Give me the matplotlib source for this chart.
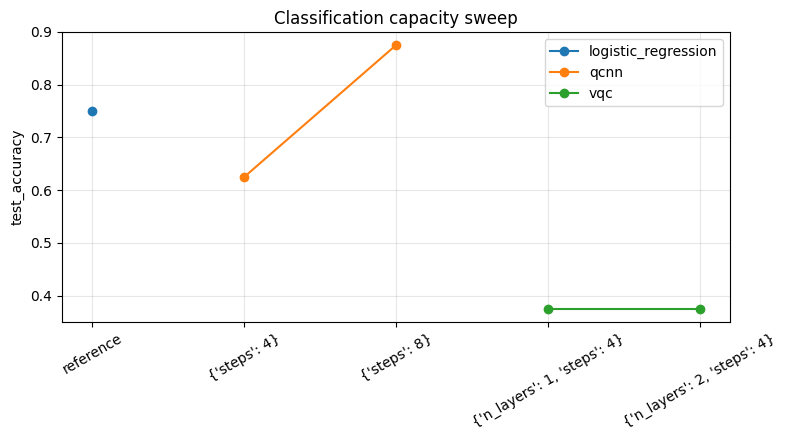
import matplotlib
matplotlib.use("Agg")
import matplotlib.pyplot as plt

categories = ["reference", "{'steps': 4}", "{'steps': 8}",
              "{'n_layers': 1, 'steps': 4}", "{'n_layers': 2, 'steps': 4}"]
series_names = ["logistic_regression", "qcnn", "vqc"]
series_x = [["reference"],
            ["{'steps': 4}", "{'steps': 8}"],
            ["{'n_layers': 1, 'steps': 4}", "{'n_layers': 2, 'steps': 4}"]]
series_y = [[0.75], [0.625, 0.875], [0.375, 0.375]]

fig, ax = plt.subplots(figsize=(7.87, 4.4), dpi=100)
idx = {c: i for i, c in enumerate(categories)}
for name, xs, ys in zip(series_names, series_x, series_y):
    ax.plot([idx[x] for x in xs], ys, marker="o", label=name)
ax.set_xticks(range(len(categories)))
ax.set_xticklabels(categories, rotation=30)
ax.set_ylabel("test_accuracy")
ax.set_title("Classification capacity sweep")
ax.grid(True, alpha=0.3)
ax.legend()
fig.subplots_adjust(left=62/787, right=730/787, top=1-32/440, bottom=1-322/440)
fig.savefig("out.png", dpi=100)
